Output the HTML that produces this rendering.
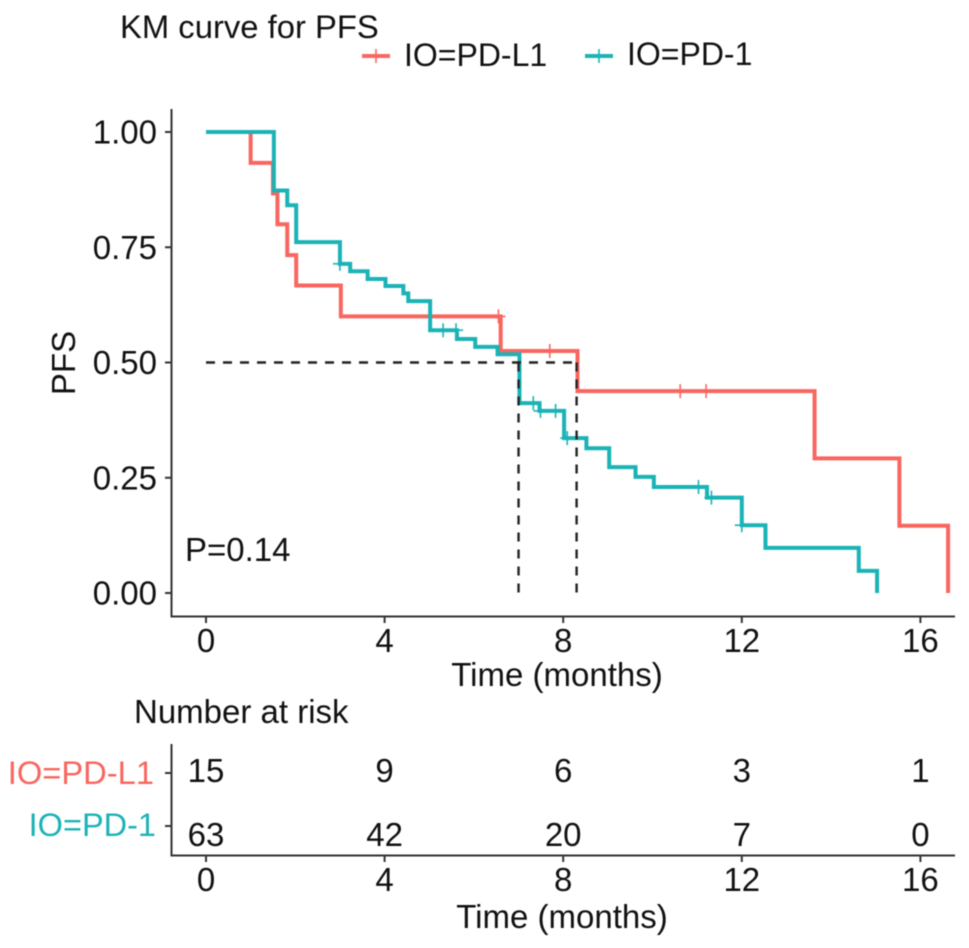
<!DOCTYPE html>
<html>
<head>
<meta charset="utf-8">
<style>
html,body{margin:0;padding:0;background:#fff;width:969px;height:948px;overflow:hidden}
svg{display:block;font-family:"Liberation Sans",Arimo,Helvetica,sans-serif;filter:blur(0.5px)}
text{fill:#111}
</style>
</head>
<body>
<svg id="chart" width="969" height="948" viewBox="0 0 969 948" xmlns="http://www.w3.org/2000/svg">
  <text x="120" y="38" font-size="32.8">KM curve for PFS</text>
  <line x1="362" x2="390" y1="56" y2="56" stroke="#F8665F" stroke-width="4"/>
  <line x1="376" x2="376" y1="49" y2="63" stroke="#F8665F" stroke-width="1.6"/>
  <text x="404" y="66" font-size="32">IO=PD-L1</text>
  <line x1="585" x2="613" y1="56" y2="56" stroke="#1BB3B6" stroke-width="4"/>
  <line x1="599" x2="599" y1="49" y2="63" stroke="#1BB3B6" stroke-width="1.6"/>
  <text x="627" y="65" font-size="32">IO=PD-1</text>
  <text transform="translate(75,363) rotate(-90)" text-anchor="middle" font-size="33">PFS</text>
  <text x="557" y="686" text-anchor="middle" font-size="33">Time (months)</text>
  <text x="185" y="561" font-size="33">P=0.14</text>
  <text x="134" y="723" font-size="33">Number at risk</text>
  <text x="562" y="928" text-anchor="middle" font-size="33">Time (months)</text>
  <g id="plot"></g>
  <g id="risk"></g>
</svg>
<script>
// Chart data
const xTicks = [0, 4, 8, 12, 16];
const yTicks = [0, 0.25, 0.5, 0.75, 1];
const yTickLabels = ["0.00", "0.25", "0.50", "0.75", "1.00"];

const pdL1Times = [0, 1.0, 1.5, 1.6, 1.82, 2.02, 3.02, 6.6, 8.32, 13.63, 15.53, 16.62];
const pdL1Surv = [1, 0.933, 0.867, 0.8, 0.733, 0.667, 0.6, 0.525, 0.438, 0.292, 0.146, 0];
const pdL1Censor = [6.55, 7.7, 10.62, 11.2];

const pd1Times = [0, 1.52, 1.82, 2.02, 3.0, 3.23, 3.62, 4.02, 4.42, 4.53, 5.02, 5.62, 6.03, 6.53, 7.02, 7.47, 8.02, 8.52, 9.03, 9.62, 10.03, 11.22, 12.0, 12.53, 14.62, 15.03];
const pd1Surv = [1, 0.873, 0.841, 0.761, 0.714, 0.698, 0.681, 0.666, 0.65, 0.633, 0.57, 0.551, 0.534, 0.518, 0.412, 0.395, 0.336, 0.314, 0.273, 0.252, 0.23, 0.207, 0.147, 0.098, 0.048, 0];
const pd1Censor = [3.0, 5.31, 5.6, 7.33, 7.49, 7.83, 8.09, 11.03, 11.32, 12.0];

const medianTimes = [7.0, 8.3];
const medianLevel = 0.5;

const riskTimes = [0, 4, 8, 12, 16];
const riskPdL1 = [15, 9, 6, 3, 1];
const riskPd1 = [63, 42, 20, 7, 0];

// Axis functions
const xScale = t => 206 + t * 44.65;
const yScale = s => 593 - s * 461;

const NS = "http://www.w3.org/2000/svg";
const plot = document.getElementById("plot");
const risk = document.getElementById("risk");
const AXIS = "#333";
const RED = "#F8665F";
const TEAL = "#1BB3B6";

function mk(tag, parent, props, txt) {
  const el = document.createElementNS(NS, tag);
  for (const k in props) el.setAttribute(k, props[k]);
  if (txt !== undefined) el.textContent = txt;
  parent.appendChild(el);
  return el;
}
function stepPath(ts, ss) {
  let d = "M" + xScale(ts[0]) + " " + yScale(ss[0]);
  for (let i = 1; i < ts.length; i++) {
    d += "H" + xScale(ts[i]) + "V" + yScale(ss[i]);
  }
  return d;
}
function survAt(ts, ss, t) {
  let v = ss[0];
  for (let i = 0; i < ts.length; i++) if (ts[i] <= t) v = ss[i];
  return v;
}

// Main axes
let el = mk("line", plot, {x1: 171.5, x2: 171.5, y1: 109, y2: 617, stroke: AXIS, "stroke-width": 2});


el = mk("line", plot, {x1: 170.5, x2: 955, y1: 616.5, y2: 616.5, stroke: AXIS, "stroke-width": 2});



yTicks.forEach((v, i) => {
  const t = mk("line", plot, {x1: 165, x2: 171, y1: yScale(v), y2: yScale(v), stroke: AXIS, "stroke-width": 2});
  
  
  const l = mk("text", plot, {x: 157, y: yScale(v) + 11.5, "text-anchor": "end", "font-size": 33}, yTickLabels[i]);
  
  
});
xTicks.forEach(v => {
  const t = mk("line", plot, {x1: xScale(v), x2: xScale(v), y1: 617, y2: 623, stroke: AXIS, "stroke-width": 2});
  
  
  const l = mk("text", plot, {x: xScale(v), y: 652, "text-anchor": "middle", "font-size": 33}, String(v));
  
  
});

// Series
const redPath = mk("path", plot, {d: stepPath(pdL1Times, pdL1Surv), fill: "none", stroke: RED, "stroke-width": 4, "stroke-linejoin": "miter"});


pdL1Censor.forEach(t => {
  const y = yScale(survAt(pdL1Times, pdL1Surv, t));
  const c = mk("path", plot, {d: "M" + (xScale(t) - 7) + " " + y + "H" + (xScale(t) + 7) + "M" + xScale(t) + " " + (y - 7) + "V" + (y + 7), stroke: RED, "stroke-width": 1.6, fill: "none"});
  
  
});
const tealPath = mk("path", plot, {d: stepPath(pd1Times, pd1Surv), fill: "none", stroke: TEAL, "stroke-width": 4, "stroke-linejoin": "miter"});


pd1Censor.forEach(t => {
  const y = yScale(survAt(pd1Times, pd1Surv, t));
  const c = mk("path", plot, {d: "M" + (xScale(t) - 7) + " " + y + "H" + (xScale(t) + 7) + "M" + xScale(t) + " " + (y - 7) + "V" + (y + 7), stroke: TEAL, "stroke-width": 1.6, fill: "none"});
  
  
});

// Median reference lines
const maxMedian = Math.max(...medianTimes);
const hLine = mk("line", plot, {x1: xScale(0), x2: xScale(maxMedian), y1: yScale(medianLevel), y2: yScale(medianLevel), stroke: "#222", "stroke-width": 2.4, "stroke-dasharray": "9 8"});


medianTimes.forEach(t => {
  const v = mk("line", plot, {x1: xScale(t), x2: xScale(t), y1: yScale(medianLevel), y2: yScale(0), stroke: "#222", "stroke-width": 2.4, "stroke-dasharray": "9 8"});
  
  
});

// Risk table
el = mk("line", risk, {x1: 171.5, x2: 171.5, y1: 744, y2: 856, stroke: AXIS, "stroke-width": 2});


el = mk("line", risk, {x1: 170.5, x2: 955, y1: 855.5, y2: 855.5, stroke: AXIS, "stroke-width": 2});



el = mk("line", risk, {x1: 165, x2: 171, y1: 773, y2: 773, stroke: AXIS, "stroke-width": 2});


el = mk("line", risk, {x1: 165, x2: 171, y1: 826, y2: 826, stroke: AXIS, "stroke-width": 2});


el = mk("text", risk, {x: 154, y: 784, "text-anchor": "end", "font-size": 32.7, style: "fill:" + RED}, "IO=PD-L1");


el = mk("text", risk, {x: 156, y: 836, "text-anchor": "end", "font-size": 32.5, style: "fill:" + TEAL}, "IO=PD-1");



riskTimes.forEach((t, i) => {
  const a = mk("text", risk, {x: xScale(t), y: 782, "text-anchor": "middle", "font-size": 33}, String(riskPdL1[i]));
  
  
  const b = mk("text", risk, {x: xScale(t), y: 846, "text-anchor": "middle", "font-size": 33}, String(riskPd1[i]));
  
  
  const k = mk("line", risk, {x1: xScale(t), x2: xScale(t), y1: 856, y2: 862, stroke: AXIS, "stroke-width": 2});
  
  
  const l = mk("text", risk, {x: xScale(t), y: 891, "text-anchor": "middle", "font-size": 33}, String(t));
  
  
});
</script>
</body>
</html>
